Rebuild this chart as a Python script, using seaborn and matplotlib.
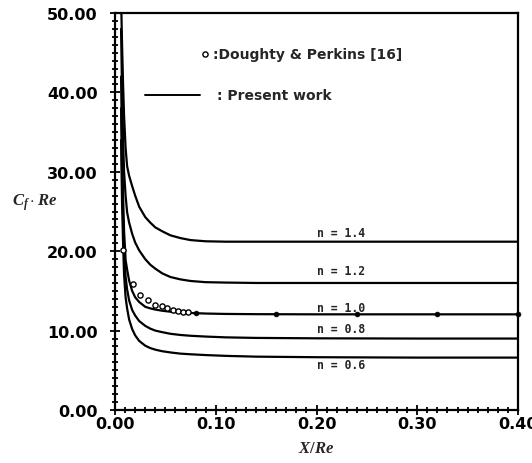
import numpy as np
import pandas as pd
import matplotlib
matplotlib.use("Agg")
import matplotlib.pyplot as plt
from matplotlib.ticker import MultipleLocator, FormatStrFormatter
import seaborn as sns

# ---------------- data ----------------
x_grid = [0.006, 0.007, 0.008, 0.009, 0.0105, 0.012, 0.014, 0.017, 0.020, 0.024,
          0.030, 0.035, 0.040, 0.047, 0.055, 0.065, 0.075, 0.090, 0.110, 0.140,
          0.200, 0.300, 0.400]

cf_n14 = [52.0, 46.0, 41.0, 37.0, 33.0, 30.7, 29.5, 28.2, 27.0, 25.6,
          24.3, 23.6, 23.0, 22.5, 22.0, 21.65, 21.4, 21.25, 21.2, 21.2,
          21.2, 21.2, 21.2]
cf_n12 = [48.0, 40.0, 34.0, 30.0, 27.0, 24.9, 23.6, 22.2, 21.1, 20.1,
          19.0, 18.3, 17.8, 17.2, 16.75, 16.45, 16.25, 16.1, 16.05, 16.0,
          16.0, 16.0, 16.0]
cf_n10 = [42.0, 33.0, 27.0, 22.5, 18.9, 17.7, 16.3, 15.0, 14.2, 13.6,
          13.0, 12.8, 12.65, 12.5, 12.38, 12.28, 12.22, 12.15, 12.1, 12.07,
          12.05, 12.05, 12.05]
cf_n08 = [38.0, 30.0, 24.0, 20.0, 16.8, 15.2, 13.8, 12.6, 11.9, 11.2,
          10.6, 10.25, 10.0, 9.8, 9.6, 9.45, 9.35, 9.25, 9.15, 9.08,
          9.03, 9.0, 9.0]
cf_n06 = [34.0, 26.0, 21.0, 17.0, 14.2, 12.8, 11.4, 10.2, 9.4, 8.7,
          8.1, 7.8, 7.6, 7.4, 7.25, 7.1, 7.02, 6.92, 6.82, 6.72,
          6.65, 6.6, 6.6]

n_values = ["1.4", "1.2", "1.0", "0.8", "0.6"]
series = [cf_n14, cf_n12, cf_n10, cf_n08, cf_n06]
label_y = [22.4, 17.6, 12.85, 10.3, 5.7]

# Doughty & Perkins [16]
dp_open_x = [0.0083, 0.0176, 0.0248, 0.0330, 0.0397, 0.0463, 0.0513, 0.0573,
             0.0628, 0.0678, 0.0728]
dp_open_y = [20.1, 15.9, 14.5, 13.8, 13.2, 13.1, 12.85, 12.6, 12.5, 12.4, 12.3]
dp_fill_x = [0.080, 0.160, 0.240, 0.320, 0.400]
dp_fill_y = [12.2, 12.1, 12.1, 12.1, 12.1]

# ---------------- figure ----------------
sns.set_theme(style="white")
plt.rcParams["font.family"] = ["DejaVu Sans"]
plt.rcParams["mathtext.fontset"] = "custom"
plt.rcParams["mathtext.it"] = "Liberation Serif:italic:bold"
plt.rcParams["mathtext.rm"] = "Liberation Serif:bold"

fig = plt.figure(figsize=(5.32, 4.64), dpi=100)
ax = fig.add_axes([0.2162, 0.1142, 0.7575, 0.8556])

rows = []
for n, ys in zip(n_values, series):
    for xv, yv in zip(x_grid, ys):
        rows.append({"x": xv, "cf": yv, "n": n})
df = pd.DataFrame(rows)

sns.lineplot(data=df, x="x", y="cf", hue="n", hue_order=n_values,
             palette=["black"] * len(n_values), linewidth=1.6,
             legend=False, ax=ax, sort=True, estimator=None)

sns.scatterplot(x=dp_open_x, y=dp_open_y, ax=ax, marker="o", s=14,
                facecolor="white", edgecolor="black", linewidth=1.0, zorder=5)
sns.scatterplot(x=dp_fill_x, y=dp_fill_y, ax=ax, marker="o", s=12,
                color="black", edgecolor="black", linewidth=0.5, zorder=5,
                clip_on=False)

for n, ly in zip(n_values, label_y):
    ax.text(0.224, ly, f"n = {n}", ha="center", va="center",
            family="DejaVu Sans Mono", fontweight="bold", fontsize=8.3)

# legend drawn in axes coordinates
ax.scatter([0.223], [0.897], transform=ax.transAxes, s=14, marker="o",
           facecolor="white", edgecolor="black", linewidth=1.0, zorder=6)
ax.text(0.243, 0.897, ":Doughty & Perkins [16]", transform=ax.transAxes,
        ha="left", va="center", fontsize=10, fontweight="bold",
        family="DejaVu Sans")
ax.plot([0.074, 0.211], [0.793, 0.793], transform=ax.transAxes,
        color="black", linewidth=1.4)
ax.text(0.252, 0.793, ": Present work", transform=ax.transAxes,
        ha="left", va="center", fontsize=10, fontweight="bold",
        family="DejaVu Sans")

ax.set_xlim(0, 0.40)
ax.set_ylim(0, 50)
ax.xaxis.set_major_locator(MultipleLocator(0.10))
ax.xaxis.set_minor_locator(MultipleLocator(0.01))
ax.yaxis.set_major_locator(MultipleLocator(10))
ax.yaxis.set_minor_locator(MultipleLocator(1))
ax.xaxis.set_major_formatter(FormatStrFormatter("%.2f"))
ax.yaxis.set_major_formatter(FormatStrFormatter("%.2f"))

ax.tick_params(axis="both", which="both", direction="inout", colors="black",
               bottom=True, left=True, top=False, right=False, width=1.3)
ax.tick_params(axis="both", which="major", length=7, labelsize=11.5)
ax.tick_params(axis="x", which="major", pad=1)
ax.tick_params(axis="y", which="major", pad=9)
ax.tick_params(axis="both", which="minor", length=4)
for lab in ax.get_xticklabels() + ax.get_yticklabels():
    lab.set_fontweight("bold")

for sp in ax.spines.values():
    sp.set_color("black")
    sp.set_linewidth(1.6)

ax.set_xlabel(r"$X/Re$", fontsize=12, labelpad=5)
ax.set_ylabel(r"$C_f\cdot Re$", fontsize=12, rotation=0, labelpad=8)
ax.yaxis.set_label_coords(-0.2, 0.5)

fig.savefig("out.png", dpi=100, facecolor="white")
